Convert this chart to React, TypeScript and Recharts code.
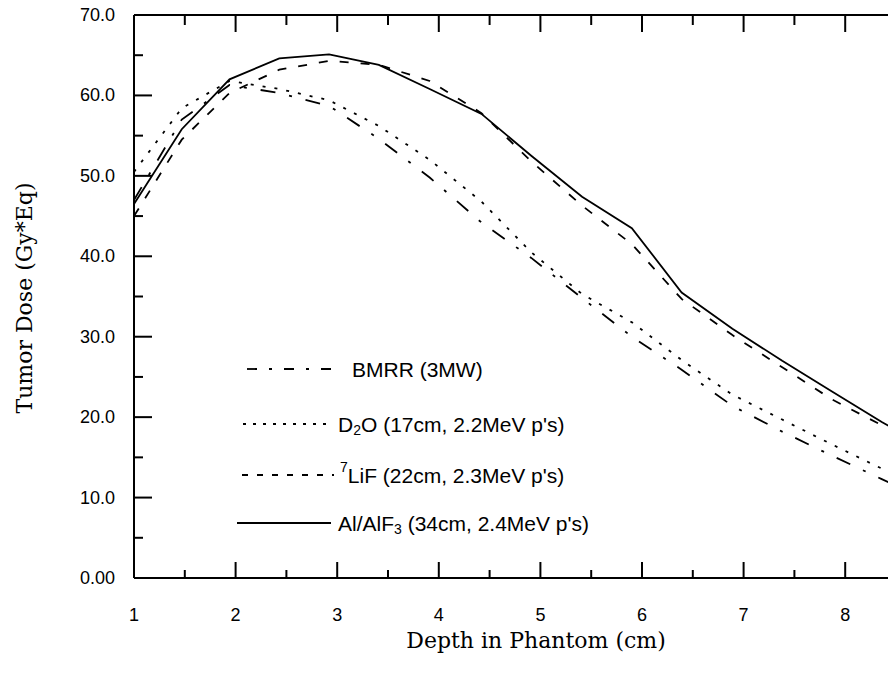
import { LineChart, Line, XAxis, YAxis, Legend, Label } from 'recharts';

// depth in phantom (cm) and tumor dose (Gy*Eq) for each beam
const depth = [1.0, 1.47, 1.94, 2.43, 2.92, 3.41, 3.91, 4.42, 4.91, 5.41, 5.9, 6.39, 6.89, 7.38, 7.87, 8.36, 8.5];
const bmrr = [47.0, 57.0, 61.3, 60.3, 58.7, 54.6, 49.8, 44.2, 39.8, 34.8, 30.0, 25.9, 21.4, 18.2, 15.2, 12.3, 11.5];
const d2o = [50.5, 58.4, 61.8, 60.8, 59.4, 56.2, 52.0, 46.8, 40.5, 35.3, 31.8, 27.1, 22.8, 19.7, 16.6, 13.6, 12.8];
const lif = [45.0, 54.5, 60.3, 63.2, 64.3, 63.8, 61.8, 57.8, 51.8, 46.3, 41.5, 34.7, 30.2, 26.2, 22.2, 19.0, 18.0];
const alalf = [46.5, 55.8, 62.0, 64.6, 65.1, 63.8, 60.8, 57.7, 52.5, 47.4, 43.5, 35.5, 31.0, 27.0, 23.2, 19.4, 18.4];

const xTicks = [1, 1.5, 2, 2.5, 3, 3.5, 4, 4.5, 5, 5.5, 6, 6.5, 7, 7.5, 8, 8.5];
const yTicks = [0, 5, 10, 15, 20, 25, 30, 35, 40, 45, 50, 55, 60, 65, 70];

const data = depth.map((d, i) => ({ depth: d, bmrr: bmrr[i], d2o: d2o[i], lif: lif[i], alalf: alalf[i] }));

const SANS = '"Liberation Sans", Arial, sans-serif';
const SERIF = '"DejaVu Serif", serif';

const SERIES = [
  { key: 'bmrr', dash: '15 14 3 14', legendDash: '10 12 3 12' },
  { key: 'd2o', dash: '3 9', legendDash: '3 7' },
  { key: 'lif', dash: '9 12', legendDash: '6 9' },
  { key: 'alalf', dash: undefined, legendDash: undefined },
];

const fmtY = (v: number) => (v === 0 ? '0.00' : v.toFixed(1));

function BottomTick({ x, y, payload }: any) {
  const major = Number.isInteger(payload.value);
  return (
    <g>
      <line x1={x} x2={x} y1={y} y2={y - (major ? 16 : 8)} stroke="#000" strokeWidth={2} />
      {major && (
        <text x={x} y={y + 37} textAnchor="middle" dominantBaseline="central" fontFamily={SANS} fontSize={18} fill="#000">
          {payload.value}
        </text>
      )}
    </g>
  );
}

function TopTick({ x, y, payload }: any) {
  const major = Number.isInteger(payload.value);
  return <line x1={x} x2={x} y1={y} y2={y + (major ? 17 : 10)} stroke="#000" strokeWidth={2} />;
}

function LeftTick({ x, y, payload }: any) {
  const major = payload.value % 10 === 0;
  return (
    <g>
      <line x1={x} x2={x + (major ? 18 : 9)} y1={y} y2={y} stroke="#000" strokeWidth={2} />
      {major && (
        <text x={x - 19} y={y} textAnchor="end" dominantBaseline="central" fontFamily={SANS} fontSize={18} fill="#000">
          {fmtY(payload.value)}
        </text>
      )}
    </g>
  );
}

function RightTick({ x, y, payload }: any) {
  const major = payload.value % 10 === 0;
  return <line x1={x} x2={x - (major ? 18 : 9)} y1={y} y2={y} stroke="#000" strokeWidth={2} />;
}

function LegendBox() {
  const rows = [
    { dash: SERIES[0].legendDash, x0: 247, x1: 340, tx: 352, y: 369, text: <>BMRR (3MW)</> },
    { dash: SERIES[1].legendDash, x0: 243, x1: 327, tx: 338, y: 424, text: <>D<tspan dy={6} fontSize={14}>2</tspan><tspan dy={-6}>O (17cm, 2.2MeV p's)</tspan></> },
    { dash: SERIES[2].legendDash, x0: 242, x1: 334, tx: 340, y: 475, text: <><tspan dy={-8} fontSize={14}>7</tspan><tspan dy={8}>LiF (22cm, 2.3MeV p's)</tspan></> },
    { dash: SERIES[3].legendDash, x0: 237, x1: 331, tx: 338, y: 523, text: <>Al/AlF<tspan dy={6} fontSize={14}>3</tspan><tspan dy={-6}> (34cm, 2.4MeV p's)</tspan></> },
  ];
  return (
    <svg width={888} height={678} style={{ position: 'absolute', left: 0, top: 0, overflow: 'visible' }}>
      {rows.map((r, i) => (
        <g key={i}>
          <line x1={r.x0} x2={r.x1} y1={r.y} y2={r.y} stroke="#000" strokeWidth={1.8} strokeDasharray={r.dash} />
          <text x={r.tx} y={r.y} dominantBaseline="central" fontFamily={SANS} fontSize={21} fill="#000">
            {r.text}
          </text>
        </g>
      ))}
    </svg>
  );
}

export default function App() {
  return (
    <div style={{ position: 'absolute', left: 0, top: 0, width: 888, height: 678, overflow: 'hidden', background: '#fff' }}>
      <LineChart width={900} height={678} data={data} margin={{ top: 0, right: 0, bottom: 0, left: 0 }}>
        <XAxis
          xAxisId="b" dataKey="depth" type="number" domain={[1, 8.5]} ticks={xTicks} interval={0}
          orientation="bottom" height={100} tickSize={0} tickMargin={0} tickLine={false}
          axisLine={{ stroke: '#000', strokeWidth: 2 }} tick={<BottomTick />}
        >
          <Label content={() => (
            <text x={536} y={640} textAnchor="middle" dominantBaseline="central" fontFamily={SERIF} fontSize={22} fill="#000">
              Depth in Phantom (cm)
            </text>
          )} />
        </XAxis>
        <XAxis
          xAxisId="t" dataKey="depth" type="number" domain={[1, 8.5]} ticks={xTicks} interval={0}
          orientation="top" height={15} tickSize={0} tickMargin={0} tickLine={false}
          axisLine={{ stroke: '#000', strokeWidth: 2 }} tick={<TopTick />}
        />
        <YAxis
          yAxisId="l" type="number" domain={[0, 70]} ticks={yTicks} interval={0}
          orientation="left" width={134} tickSize={0} tickMargin={0} tickLine={false}
          axisLine={{ stroke: '#000', strokeWidth: 2 }} tick={<LeftTick />}
        >
          <Label content={() => (
            <text x={24} y={298} transform="rotate(-90 24 298)" textAnchor="middle" dominantBaseline="central" fontFamily={SERIF} fontSize={22} fill="#000">
              Tumor Dose (Gy*Eq)
            </text>
          )} />
        </YAxis>
        <YAxis
          yAxisId="r" type="number" domain={[0, 70]} ticks={yTicks} interval={0}
          orientation="right" width={4} tickSize={0} tickMargin={0} tickLine={false}
          axisLine={{ stroke: '#000', strokeWidth: 2 }} tick={<RightTick />}
        />
        {SERIES.map((s) => (
          <Line
            key={s.key} xAxisId="b" yAxisId="l" type="linear" dataKey={s.key}
            stroke="#000" strokeWidth={1.8} strokeDasharray={s.dash} dot={false} isAnimationActive={false}
          />
        ))}
        <Legend layout="vertical" align="center" verticalAlign="middle" content={() => null} />
      </LineChart>
      <LegendBox />
    </div>
  );
}
